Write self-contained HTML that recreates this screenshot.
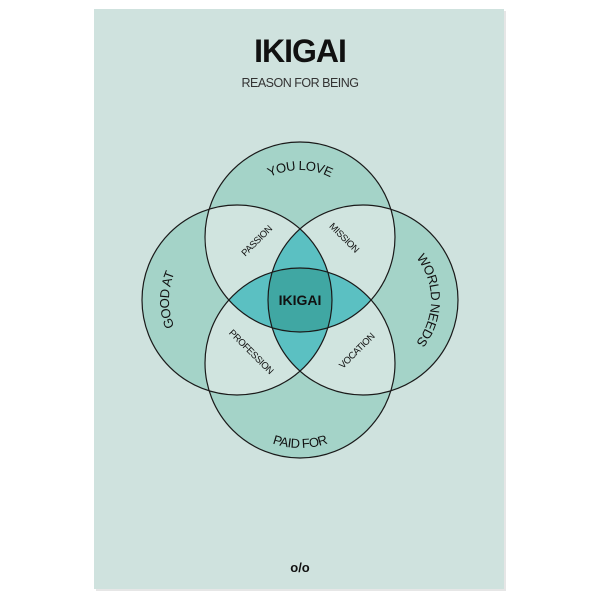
<!DOCTYPE html>
<html><head><style>
html,body{margin:0;padding:0;background:#fff;}
svg{display:block;font-family:"Liberation Sans",sans-serif;}
</style></head><body>
<svg width="600" height="600" viewBox="0 0 600 600" xmlns="http://www.w3.org/2000/svg">
<defs>
<clipPath id="cT"><circle cx="300" cy="237" r="95"/></clipPath>
<clipPath id="cB"><circle cx="300" cy="363" r="95"/></clipPath>
<clipPath id="cL"><circle cx="237" cy="300" r="95"/></clipPath>
<clipPath id="cR"><circle cx="363" cy="300" r="95"/></clipPath>
<path id="pTop" d="M233,237 A67,67 0 0 1 367,237"/>
<path id="pBot" d="M215,363 A85,85 0 0 0 385,363"/>
<path id="pLeft" d="M237,368 A68,68 0 0 1 237,232"/>
<path id="pRight" d="M363,232 A68,68 0 0 1 363,368"/>
</defs>
<rect x="96" y="11" width="410" height="580" fill="#e6e6e6"/>
<rect x="94" y="9" width="410" height="580" fill="#cfe2de"/>
<g fill="#a4d3c8">
<circle cx="300" cy="237" r="95"/><circle cx="300" cy="363" r="95"/>
<circle cx="237" cy="300" r="95"/><circle cx="363" cy="300" r="95"/>
</g>
<g fill="#d0e4df">
<g clip-path="url(#cT)"><circle cx="237" cy="300" r="95"/><circle cx="363" cy="300" r="95"/></g>
<g clip-path="url(#cB)"><circle cx="237" cy="300" r="95"/><circle cx="363" cy="300" r="95"/></g>
</g>
<g fill="#5bc0c2">
<g clip-path="url(#cT)"><circle cx="300" cy="363" r="95"/></g>
<g clip-path="url(#cL)"><circle cx="363" cy="300" r="95"/></g>
</g>
<g clip-path="url(#cT)"><g clip-path="url(#cB)"><g clip-path="url(#cL)"><circle cx="363" cy="300" r="95" fill="#40a7a3"/></g></g></g>
<g fill="none" stroke="#1a1a1a" stroke-width="1.2">
<circle cx="300" cy="237" r="95"/><circle cx="300" cy="363" r="95"/>
<circle cx="237" cy="300" r="95"/><circle cx="363" cy="300" r="95"/>
</g>
<text x="300" y="62" text-anchor="middle" font-size="32" font-weight="bold" fill="#111" letter-spacing="-1">IKIGAI</text>
<text x="300" y="87" text-anchor="middle" font-size="12.5" fill="#333" letter-spacing="-0.5">REASON FOR BEING</text>
<g font-size="13" fill="#111" letter-spacing="-0.5">
<text><textPath href="#pTop" startOffset="50%" text-anchor="middle">YOU LOVE</textPath></text>
<text><textPath href="#pBot" startOffset="50%" text-anchor="middle">PAID FOR</textPath></text>
<text><textPath href="#pLeft" startOffset="50%" text-anchor="middle">GOOD AT</textPath></text>
<text><textPath href="#pRight" startOffset="50%" text-anchor="middle">WORLD NEEDS</textPath></text>
</g>
<g font-size="9.5" fill="#111" text-anchor="middle" letter-spacing="-0.4">
<text transform="translate(259,243) rotate(-45)">PASSION</text>
<text transform="translate(342,240) rotate(45)">MISSION</text>
<text transform="translate(249,354) rotate(45)">PROFESSION</text>
<text transform="translate(359,353) rotate(-45)">VOCATION</text>
</g>
<text x="300" y="305" text-anchor="middle" font-size="14" font-weight="bold" fill="#111">IKIGAI</text>
<text x="300" y="572" text-anchor="middle" font-size="13" font-weight="bold" fill="#111">o/o</text>
</svg>
</body></html>
